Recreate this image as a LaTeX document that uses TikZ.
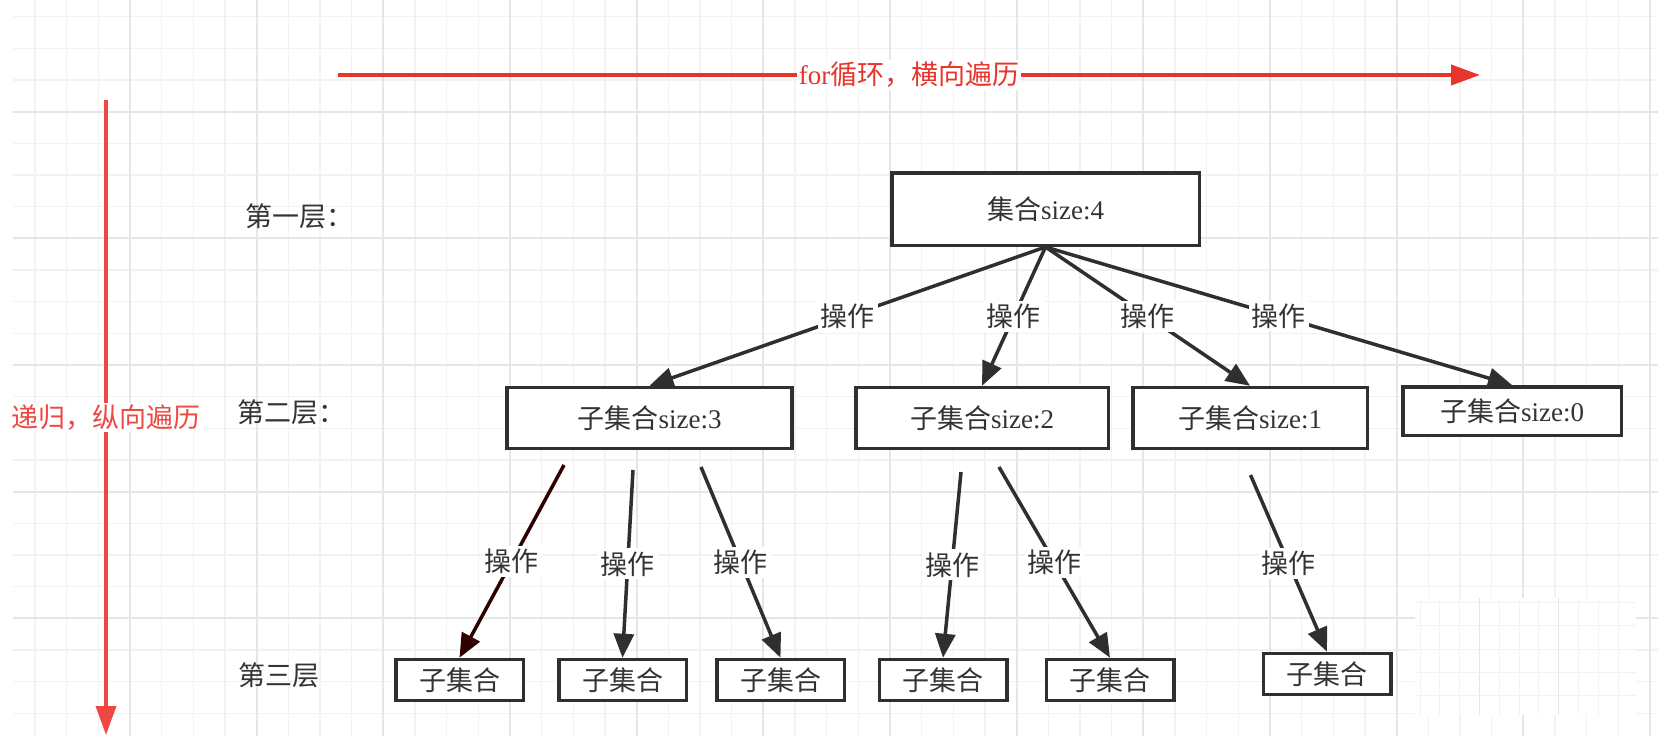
\documentclass[tikz,border=0pt]{standalone}
\usepackage{fontspec}
\setmainfont{Liberation Serif}
\newfontfamily\cjk{Noto Sans CJK SC}
\usetikzlibrary{arrows.meta}
\definecolor{gridminor}{HTML}{F2F2F2}
\definecolor{gridmajor}{HTML}{E6E6E6}
\definecolor{inkgray}{HTML}{2F2F2F}
\definecolor{textgray}{HTML}{333333}
\definecolor{loopred}{HTML}{E8352B}
\definecolor{recred}{HTML}{EE4842}
\definecolor{firstred}{HTML}{2E0000}
\newcommand{\zhtext}[1]{{\cjk #1}}
\tikzset{
	bigfont/.style={font=\fontsize{27}{30}\selectfont},
	setbox/.style={draw=inkgray, line width=3.5pt, fill=white, inner sep=0pt,
		minimum height=61pt, bigfont, text=textgray},
	leafbox/.style={setbox, minimum width=127.5pt, minimum height=41pt},
	oplabel/.style={fill=white, inner sep=3pt, bigfont, text=textgray},
	opline/.style={draw=inkgray, line width=3.5pt, -{Triangle[length=24pt,width=20pt]}},
	redline/.style={line width=#1, -{Triangle[length=29pt,width=20pt]}},
	levellabel/.style={anchor=west, inner sep=0pt, bigfont, text=textgray}
}

\begin{document}
\begin{tikzpicture}[x=1pt, y=-1pt]
	\useasboundingbox (0,0) rectangle (1668,736);
	\fill[white] (0,0) rectangle (1668,736);
	
	% grid
	\foreach \k in {0,...,51} \draw[gridminor, line width=1.5pt] (35+31.667*\k, 0) -- (35+31.667*\k, 736);
	\foreach \k in {0,...,22} \draw[gridminor, line width=1.5pt] (13, 16.67+31.667*\k) -- (1658, 16.67+31.667*\k);
	\foreach \m in {1,...,13} \draw[gridmajor, line width=2pt] (3.33+126.67*\m, 0) -- (3.33+126.67*\m, 736);
	\foreach \m in {1,...,5} \draw[gridmajor, line width=2pt] (13, -15+126.67*\m) -- (1658, -15+126.67*\m);
	
	\fill[white] (1415,598) rectangle (1636,715);
	\foreach \i in {0,...,10} \draw[gridminor, line width=1pt] (1420+19.8*\i, 598) -- (1420+19.8*\i, 715);
	\foreach \i in {3,7} \draw[gridmajor, line width=1pt] (1420+19.8*\i, 598) -- (1420+19.8*\i, 715);
	\foreach \j in {0,...,4} \draw[gridminor, line width=1pt] (1415, 602.3+23.4*\j) -- (1636, 602.3+23.4*\j);
	
	% traversal arrows
	\coordinate (loopstart) at (338, 75);
	\coordinate (loopend) at (1480, 75);
	\draw[loopred, redline=4pt] (loopstart) -- (loopend) node[midway, fill=white, inner sep=2pt, bigfont] (looptext) {for\zhtext{循环，横向遍历}};
	
	\coordinate (recstart) at (106, 100);
	\coordinate (recend) at (106, 735);
	\draw[recred, redline=3.5pt] (recstart) -- (recend) node[midway, fill=white, inner sep=2pt, bigfont] (rectext) {\zhtext{递归，纵向遍历}};
	
	% levels
	\node[levellabel] (lvl1) at (245, 216) {\zhtext{第一层：}};
	\node[levellabel] (lvl2) at (237, 412) {\zhtext{第二层：}};
	\node[levellabel] (lvl3) at (238, 675) {\zhtext{第三层}};
	
	% sets
	\node[setbox, minimum width=307.5pt, minimum height=72.5pt] (root) at (1045.5, 209) {\zhtext{集合}size:4};
	
	\node[setbox, minimum width=285pt] (sub3) at (649.5, 418) {\zhtext{子集合}size:3};
	\node[setbox, minimum width=252.5pt] (sub2) at (982, 418) {\zhtext{子集合}size:2};
	\node[setbox, minimum width=234.5pt] (sub1) at (1250, 418) {\zhtext{子集合}size:1};
	\node[setbox, minimum width=218.5pt, minimum height=48.5pt] (sub0) at (1512, 411) {\zhtext{子集合}size:0};
	
	\node[leafbox] (leaf1) at (459.5, 680) {\zhtext{子集合}};
	\node[leafbox] (leaf2) at (622.5, 680) {\zhtext{子集合}};
	\node[leafbox] (leaf3) at (780.5, 680) {\zhtext{子集合}};
	\node[leafbox] (leaf4) at (943, 680) {\zhtext{子集合}};
	\node[leafbox] (leaf5) at (1110, 680) {\zhtext{子集合}};
	\node[leafbox] (leaf6) at (1327, 674) {\zhtext{子集合}};
	
	% first step
	\draw[opline] (root.south) -- (sub3.north) node[oplabel, midway] (op1) {\zhtext{操作}};
	\draw[opline] (root.south) -- (sub2.north) node[oplabel, midway] (op2) {\zhtext{操作}};
	\draw[opline] (root.south) -- (sub1.north) node[oplabel, midway] (op3) {\zhtext{操作}};
	\draw[opline] (root.south) -- (sub0.north) node[oplabel, midway] (op4) {\zhtext{操作}};
	
	% second step
	\coordinate (from1) at (564, 465);
	\coordinate (from2) at (633, 470);
	\coordinate (from3) at (701, 467);
	\coordinate (from4) at (961, 472);
	\coordinate (from5) at (999, 467);
	\coordinate (from6) at (1250.5, 475);
	\draw[opline, draw=firstred, fill=firstred] (from1) -- (leaf1.north) node[oplabel, midway] (op5) {\zhtext{操作}};
	\draw[opline] (from2) -- (leaf2.north) node[oplabel, midway] (op6) {\zhtext{操作}};
	\draw[opline] (from3) -- (leaf3.north) node[oplabel, midway] (op7) {\zhtext{操作}};
	\draw[opline] (from4) -- (leaf4.north) node[oplabel, midway] (op8) {\zhtext{操作}};
	\draw[opline] (from5) -- (leaf5.north) node[oplabel, midway] (op9) {\zhtext{操作}};
	\draw[opline] (from6) -- (leaf6.north) node[oplabel, midway] (op10) {\zhtext{操作}};
\end{tikzpicture}
\end{document}
